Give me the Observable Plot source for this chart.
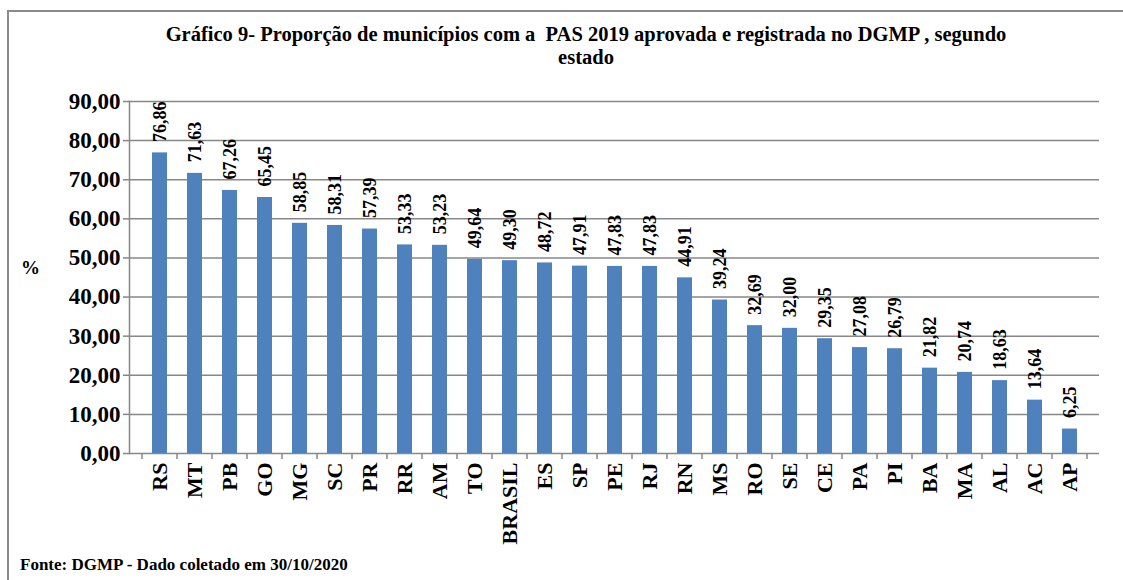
<!DOCTYPE html>
<html>
<head>
<meta charset="utf-8">
<script src="https://cdn.jsdelivr.net/npm/d3@7"></script>
<script src="https://cdn.jsdelivr.net/npm/@observablehq/plot@0.6"></script>
<style>
  html, body { margin: 0; padding: 0; background: #fff; }
  #wrap { position: relative; width: 1123px; height: 580px; overflow: hidden; font-family: "Liberation Serif", "Times New Roman", serif; font-weight: bold; color: #000; }
  #border { position: absolute; left: 7px; top: 10px; width: 1200px; height: 700px; border: 2px solid #8a8a8a; box-sizing: border-box; }
  #chart { position: absolute; left: 0; top: 0; }
  .title { position: absolute; left: 0; width: 1172px; text-align: center; font-size: 20.5px; white-space: pre; }
  #pct { position: absolute; left: 21px; top: 257px; font-size: 19px; }
  #source { position: absolute; left: 20px; top: 555px; font-size: 17px; white-space: pre; }
</style>
</head>
<body>
<div id="wrap">
  <div id="border"></div>
  <div id="chart"></div>
  <div class="title" id="t1" style="top:23px">Gráfico 9- Proporção de municípios com a  PAS 2019 aprovada e registrada no DGMP , segundo</div>
  <div class="title" id="t2" style="top:46px">estado</div>
  <div id="pct">%</div>
  <div id="source">Fonte: DGMP - Dado coletado em 30/10/2020</div>
</div>
<script>
const states = ["RS","MT","PB","GO","MG","SC","PR","RR","AM","TO","BRASIL","ES","SP","PE","RJ","RN","MS","RO","SE","CE","PA","PI","BA","MA","AL","AC","AP"];
const values = [76.86,71.63,67.26,65.45,58.85,58.31,57.39,53.33,53.23,49.64,49.30,48.72,47.91,47.83,47.83,44.91,39.24,32.69,32.00,29.35,27.08,26.79,21.82,20.74,18.63,13.64,6.25];
const yTicks = [0,10,20,30,40,50,60,70,80,90];

const data = states.map((s, i) => ({state: s, value: values[i]}));
const fmt = v => v.toFixed(2).replace(".", ",");
const gray = "#878787";

function boundaryTicks(index, scales, values, dims) {
  const x = scales.x, y = scales.y;
  const bw = x.bandwidth();
  const step = x(states[1]) - x(states[0]);
  const y0 = y(0);
  const g = d3.create("svg:g").attr("stroke", gray).attr("stroke-width", 1.5);
  const xs = states.map(s => x(s) + bw / 2 - step / 2);
  xs.push(x(states[states.length - 1]) + bw / 2 + step / 2);
  for (const px of xs) {
    g.append("line").attr("x1", px).attr("x2", px).attr("y1", y0).attr("y2", y0 + 6);
  }
  return g.node();
}

const chart = Plot.plot({
  width: 1123,
  height: 580,
  marginTop: 101,
  marginBottom: 127,
  marginLeft: 129,
  marginRight: 24,
  style: {fontFamily: "'Liberation Serif', 'Times New Roman', serif", fontWeight: "bold", color: "#000", background: "transparent"},
  x: {domain: states, paddingInner: 0.58, paddingOuter: 0.29, label: null},
  y: {domain: [0, 90], label: null},
  marks: [
    Plot.ruleY(yTicks, {stroke: gray, strokeWidth: 1.5}),
    Plot.frame({anchor: "left", stroke: gray, strokeWidth: 1.5}),
    Plot.axisY({ticks: yTicks, tickFormat: fmt, tickSize: 6, tickPadding: 3, fontSize: 23, stroke: gray, strokeWidth: 1.5, label: null}),
    Plot.barY(data, {x: "state", y: "value", fill: "#4F81BD"}),
    boundaryTicks,
    Plot.axisX({tickSize: 0, tickRotate: -90, tickPadding: 9, fontSize: 22, label: null}),
    Plot.text(data, {x: "state", y: "value", text: d => fmt(d.value), rotate: -90, textAnchor: "start", dy: -11, fontSize: 18, fill: "#000"})
  ]
});
document.getElementById("chart").appendChild(chart);
</script>
</body>
</html>
